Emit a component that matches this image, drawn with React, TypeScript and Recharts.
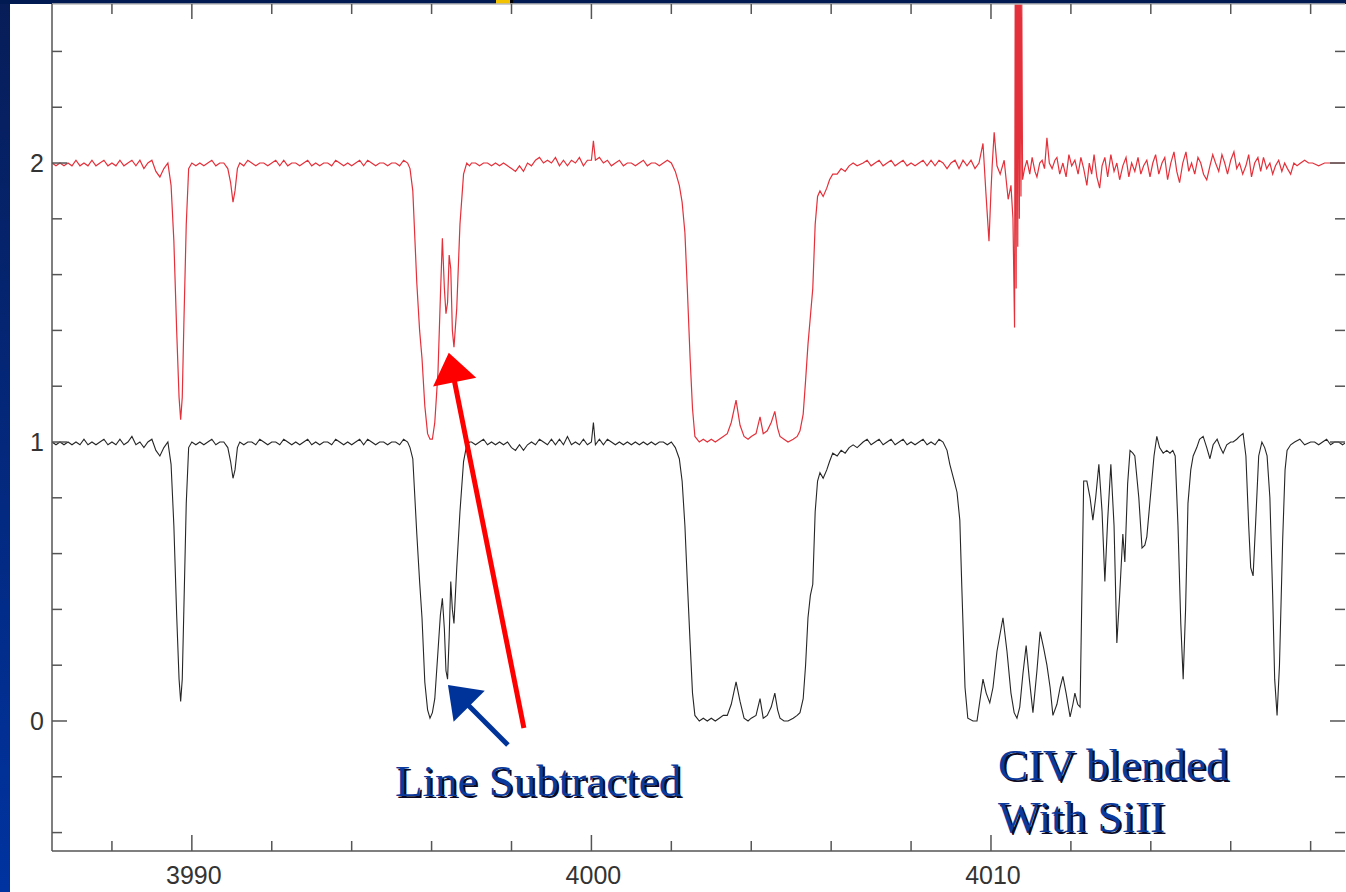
import React from "react";
import { LineChart, Line, XAxis, YAxis, ReferenceLine } from "recharts";

// wavelength grid shared by both spectra up to 4008.8 A
const waveMain = [
  3986.5, 3986.6, 3986.7, 3986.8, 3986.9, 3987.0, 3987.1, 3987.2, 3987.3, 3987.4,
  3987.5, 3987.6, 3987.7, 3987.8, 3987.9, 3988.0, 3988.1, 3988.2, 3988.3, 3988.4,
  3988.5, 3988.6, 3988.7, 3988.8, 3988.9, 3989.0, 3989.1, 3989.2, 3989.3, 3989.4,
  3989.48, 3989.55, 3989.62, 3989.68, 3989.72, 3989.76, 3989.8, 3989.86, 3989.92, 3990.0,
  3990.1, 3990.2, 3990.3, 3990.4, 3990.5, 3990.6, 3990.7, 3990.8, 3990.9, 3990.97,
  3991.03, 3991.08, 3991.14, 3991.2, 3991.3, 3991.4, 3991.5, 3991.6, 3991.7, 3991.8,
  3991.9, 3992.0, 3992.1, 3992.2, 3992.3, 3992.4, 3992.5, 3992.6, 3992.7, 3992.8,
  3992.9, 3993.0, 3993.1, 3993.2, 3993.3, 3993.4, 3993.5, 3993.6, 3993.7, 3993.8,
  3993.9, 3994.0, 3994.1, 3994.2, 3994.3, 3994.4, 3994.5, 3994.6, 3994.7, 3994.8,
  3994.9, 3995.0, 3995.1, 3995.2, 3995.3, 3995.4, 3995.46, 3995.53, 3995.63, 3995.7,
  3995.76, 3995.83, 3995.9, 3995.96, 3996.02, 3996.08, 3996.16, 3996.22, 3996.27, 3996.32,
  3996.36, 3996.4, 3996.44, 3996.48, 3996.52, 3996.56, 3996.63, 3996.71, 3996.8, 3996.88,
  3996.95, 3997.0, 3997.1, 3997.2, 3997.3, 3997.4, 3997.5, 3997.6, 3997.7, 3997.8,
  3997.9, 3998.0, 3998.1, 3998.2, 3998.3, 3998.4, 3998.5, 3998.6, 3998.7, 3998.8,
  3998.9, 3999.0, 3999.1, 3999.2, 3999.3, 3999.4, 3999.5, 3999.6, 3999.7, 3999.8,
  3999.9, 4000.0, 4000.05, 4000.1, 4000.2, 4000.3, 4000.4, 4000.5, 4000.6, 4000.7,
  4000.8, 4000.9, 4001.0, 4001.1, 4001.2, 4001.3, 4001.4, 4001.5, 4001.6, 4001.7,
  4001.8, 4001.9, 4002.0, 4002.1, 4002.2, 4002.27, 4002.34, 4002.4, 4002.47, 4002.53,
  4002.59, 4002.7, 4002.8, 4002.9, 4003.0, 4003.1, 4003.2, 4003.3, 4003.4, 4003.5,
  4003.62, 4003.72, 4003.82, 4003.92, 4004.0, 4004.12, 4004.22, 4004.3, 4004.4, 4004.5,
  4004.59, 4004.66, 4004.72, 4004.82, 4004.92, 4005.05, 4005.15, 4005.22, 4005.3, 4005.36,
  4005.42, 4005.48, 4005.54, 4005.6, 4005.66, 4005.72, 4005.8, 4005.89, 4005.96, 4006.04,
  4006.15, 4006.25, 4006.35, 4006.45, 4006.55, 4006.65, 4006.8, 4006.9, 4007.0, 4007.1,
  4007.2, 4007.3, 4007.4, 4007.5, 4007.6, 4007.7, 4007.8, 4007.9, 4008.0, 4008.1,
  4008.2, 4008.3, 4008.4, 4008.5, 4008.6, 4008.7, 4008.8,
];

// normalised spectrum (black)
const normMain = [
  1.0, 0.99, 1.0, 0.99, 1.0, 0.99, 1.0, 0.99, 1.01, 0.99,
  1.0, 0.99, 1.0, 1.01, 0.99, 1.0, 0.99, 1.01, 0.99, 1.0,
  1.02, 0.99, 1.0, 0.98, 1.0, 1.01, 0.97, 0.95, 0.98, 1.0,
  0.92, 0.7, 0.38, 0.15, 0.07, 0.15, 0.4, 0.78, 0.98, 1.0,
  0.99, 1.0, 0.99, 1.0, 1.01, 0.99, 1.0, 1.0, 0.98, 0.93,
  0.87, 0.9, 0.98, 1.0, 0.99, 1.0, 1.0, 0.99, 1.01, 1.0,
  0.99, 1.0, 1.0, 0.99, 1.01, 1.0, 0.99, 1.0, 0.99, 1.0,
  1.01, 0.99, 1.0, 0.99, 1.0, 1.0, 0.99, 1.01, 1.0, 0.99,
  1.0, 0.99, 1.0, 1.01, 0.99, 1.01, 1.0, 0.99, 1.0, 1.0,
  0.99, 1.0, 1.0, 0.99, 1.01, 1.0, 0.98, 0.94, 0.67, 0.5,
  0.37, 0.14, 0.04, 0.01, 0.03, 0.08, 0.25, 0.38, 0.44, 0.33,
  0.18, 0.15, 0.3, 0.5, 0.4, 0.35, 0.55, 0.75, 0.93, 0.99,
  1.0, 1.0, 0.99, 1.0, 1.01, 0.99, 1.0, 0.99, 1.0, 0.99,
  1.0, 0.98, 0.97, 0.99, 0.97, 0.99, 1.0, 0.99, 1.01, 1.0,
  0.99, 1.01, 0.99, 1.01, 0.99, 1.02, 0.99, 1.0, 0.99, 1.01,
  0.99, 1.0, 1.07, 0.99, 1.01, 0.99, 1.01, 1.0, 0.99, 1.0,
  0.99, 1.0, 0.99, 1.0, 0.99, 1.0, 0.99, 1.0, 0.99, 1.0,
  1.0, 0.99, 1.0, 0.98, 0.94, 0.86, 0.7, 0.5, 0.28, 0.1,
  0.02, 0.0, 0.01, 0.0, 0.01, 0.0, 0.01, 0.02, 0.02, 0.06,
  0.14, 0.07, 0.01, 0.0, 0.01, 0.02, 0.08, 0.01, 0.02, 0.05,
  0.1, 0.04, 0.01, 0.0, 0.0, 0.01, 0.02, 0.03, 0.08, 0.2,
  0.37, 0.45, 0.49, 0.75, 0.86, 0.89, 0.87, 0.9, 0.93, 0.96,
  0.95, 0.97, 0.96, 0.98, 0.99, 0.98, 1.0, 1.01, 0.99, 1.0,
  1.01, 0.99, 1.0, 1.01, 0.99, 1.0, 1.01, 0.99, 1.0, 0.99,
  1.0, 1.01, 0.99, 1.0, 0.99, 1.01, 1.0,
];

// line-subtracted spectrum, offset by +1 (red)
const subMain = [
  2.0, 1.99, 2.0, 1.99, 2.0, 1.99, 2.01, 1.99, 2.0, 1.99,
  2.01, 1.99, 2.0, 2.01, 1.99, 2.0, 1.99, 2.01, 1.99, 2.0,
  2.01, 1.99, 2.01, 1.98, 2.0, 2.01, 1.97, 1.95, 1.98, 2.0,
  1.92, 1.72, 1.4, 1.16, 1.08, 1.16, 1.42, 1.78, 1.98, 2.0,
  1.99, 2.0, 1.99, 2.0, 2.01, 1.99, 2.0, 2.0, 1.98, 1.93,
  1.86, 1.9, 1.98, 2.0, 1.99, 2.01, 2.0, 1.99, 2.0, 2.0,
  1.99, 2.0, 2.01, 1.99, 2.01, 1.99, 2.0, 2.0, 1.99, 2.0,
  2.01, 1.99, 2.0, 1.99, 2.0, 2.0, 1.99, 2.01, 2.0, 1.99,
  2.0, 1.99, 2.0, 2.01, 1.99, 2.01, 2.0, 1.99, 2.0, 2.0,
  1.99, 2.0, 2.0, 1.99, 2.01, 2.0, 1.98, 1.9, 1.57, 1.4,
  1.3, 1.13, 1.03, 1.01, 1.01, 1.07, 1.25, 1.52, 1.73, 1.55,
  1.46, 1.5, 1.67, 1.62, 1.4, 1.34, 1.48, 1.78, 1.96, 2.0,
  1.99, 2.0, 2.0, 1.99, 2.0, 2.0, 1.99, 2.0, 1.99, 2.0,
  1.99, 1.98, 1.97, 1.99, 1.97, 2.0, 1.99, 2.01, 2.02, 2.0,
  2.01, 2.0, 2.02, 1.99, 2.01, 1.99, 2.01, 2.0, 2.02, 1.99,
  2.01, 2.01, 2.08, 2.01, 2.02, 2.0, 2.01, 1.99, 2.0, 2.01,
  1.99, 2.0, 2.0, 1.99, 2.0, 2.01, 1.99, 2.0, 2.0, 1.99,
  2.0, 2.01, 2.0, 1.97, 1.92, 1.86, 1.75, 1.55, 1.3, 1.12,
  1.02, 1.0, 1.01, 1.0, 1.01, 1.0, 1.01, 1.02, 1.03, 1.07,
  1.15, 1.06, 1.02, 1.01, 1.02, 1.03, 1.09, 1.03, 1.04, 1.07,
  1.11, 1.05, 1.02, 1.01, 1.0, 1.01, 1.02, 1.04, 1.1, 1.22,
  1.35, 1.45, 1.55, 1.78, 1.88, 1.9, 1.88, 1.91, 1.94, 1.96,
  1.96, 1.98, 1.97, 1.99, 2.0, 1.99, 2.0, 2.01, 1.99, 2.0,
  2.01, 1.99, 2.0, 2.01, 1.99, 2.0, 2.01, 1.99, 2.0, 1.99,
  2.0, 2.01, 1.99, 2.01, 1.99, 2.01, 2.0,
];

// CIV / SiII blend region of the normalised spectrum
const waveNormTail = [
  4008.9, 4008.97, 4009.08, 4009.15, 4009.22, 4009.27, 4009.35, 4009.42, 4009.55, 4009.65,
  4009.73, 4009.8, 4009.88, 4009.97, 4010.05, 4010.15, 4010.3, 4010.4, 4010.5, 4010.58,
  4010.65, 4010.72, 4010.8, 4010.88, 4010.96, 4011.05, 4011.15, 4011.23, 4011.32, 4011.4,
  4011.48, 4011.55, 4011.65, 4011.73, 4011.8, 4011.88, 4011.98, 4012.05, 4012.1, 4012.17,
  4012.23, 4012.28, 4012.32, 4012.4, 4012.48, 4012.55, 4012.62, 4012.7, 4012.78, 4012.85,
  4012.92, 4013.0, 4013.08, 4013.15, 4013.22, 4013.3, 4013.35, 4013.42, 4013.48, 4013.55,
  4013.6, 4013.7, 4013.78, 4013.85, 4013.9, 4014.0, 4014.08, 4014.15, 4014.22, 4014.31,
  4014.4, 4014.48, 4014.55, 4014.61, 4014.68, 4014.75, 4014.81, 4014.87, 4014.93, 4015.0,
  4015.06, 4015.15, 4015.22, 4015.31, 4015.4, 4015.48, 4015.56, 4015.66, 4015.74, 4015.81,
  4015.9, 4016.0, 4016.06, 4016.15, 4016.22, 4016.31, 4016.38, 4016.45, 4016.5, 4016.56,
  4016.62, 4016.7, 4016.78, 4016.85, 4016.91, 4016.98, 4017.05, 4017.1, 4017.16, 4017.22,
  4017.3, 4017.36, 4017.41, 4017.5, 4017.6, 4017.73, 4017.85, 4018.0, 4018.1, 4018.2,
  4018.3, 4018.4, 4018.5, 4018.6, 4018.7, 4018.8, 4018.9,
];
const normTail = [
  0.97, 0.92, 0.86, 0.82, 0.72, 0.48, 0.12, 0.01, 0.0, 0.0,
  0.08, 0.15, 0.1, 0.065, 0.12, 0.25, 0.37, 0.25, 0.1, 0.03,
  0.01, 0.05, 0.17, 0.27, 0.15, 0.03, 0.18, 0.32, 0.26, 0.2,
  0.12, 0.02, 0.06, 0.12, 0.16, 0.1, 0.015, 0.06, 0.1, 0.06,
  0.05, 0.5, 0.86, 0.86, 0.8, 0.72, 0.8, 0.92, 0.75, 0.5,
  0.72, 0.92, 0.7, 0.28, 0.45, 0.67, 0.57, 0.85, 0.97, 0.96,
  0.95, 0.8, 0.62, 0.63, 0.66, 0.82, 0.95, 1.02, 0.98, 0.96,
  0.97, 0.96, 0.97, 0.95, 0.7, 0.35, 0.15, 0.4, 0.78, 0.9,
  0.95, 0.98, 1.01, 1.02, 0.98, 0.94, 0.99, 1.01, 0.98, 0.96,
  0.99, 1.0, 1.0, 1.01, 1.02, 1.03, 0.95, 0.7, 0.55, 0.52,
  0.7, 0.95, 1.0, 0.98, 0.95, 0.8, 0.45, 0.15, 0.02, 0.2,
  0.65, 0.9, 0.97, 0.99, 1.0, 1.01, 0.99, 1.0, 1.0, 0.99,
  1.0, 1.01, 0.99, 1.0, 1.0, 0.99, 1.0,
];

// same region after line subtraction, with the residual spike near 4010.7
const waveSubTail = [
  4008.9, 4009.0, 4009.1, 4009.2, 4009.3, 4009.4, 4009.5, 4009.6, 4009.7, 4009.8,
  4009.87, 4009.95, 4010.0, 4010.03, 4010.08, 4010.15, 4010.23, 4010.33, 4010.43, 4010.5,
  4010.55, 4010.59, 4010.61, 4010.63, 4010.65, 4010.67, 4010.69, 4010.71, 4010.73, 4010.75,
  4010.77, 4010.79, 4010.84, 4010.9,
  4010.97, 4011.03, 4011.1, 4011.15, 4011.22, 4011.28, 4011.34, 4011.4, 4011.46, 4011.53,
  4011.6, 4011.65, 4011.72, 4011.8, 4011.88, 4011.95, 4012.02, 4012.1, 4012.18, 4012.25,
  4012.32, 4012.4, 4012.46, 4012.52, 4012.58, 4012.65, 4012.72, 4012.78, 4012.85, 4012.92,
  4013.0, 4013.08, 4013.15, 4013.22, 4013.3, 4013.38, 4013.45, 4013.52, 4013.6, 4013.68,
  4013.75, 4013.82, 4013.9, 4013.98, 4014.05, 4014.12, 4014.2, 4014.28, 4014.35, 4014.42,
  4014.5, 4014.58, 4014.65, 4014.72, 4014.8, 4014.88, 4014.95, 4015.02, 4015.1, 4015.18,
  4015.25, 4015.32, 4015.4, 4015.48, 4015.55, 4015.62, 4015.7, 4015.78, 4015.85, 4015.92,
  4016.0, 4016.08, 4016.15, 4016.22, 4016.3, 4016.38, 4016.45, 4016.52, 4016.6, 4016.68,
  4016.75, 4016.82, 4016.9, 4016.98, 4017.05, 4017.12, 4017.2, 4017.28, 4017.35, 4017.42,
  4017.5, 4017.58, 4017.66, 4017.75, 4017.85, 4017.95, 4018.05, 4018.2, 4018.35, 4018.5,
  4018.65, 4018.8, 4018.9,
];
const subTail = [
  1.98, 2.0, 2.01, 1.98, 2.01, 1.99, 2.01, 1.98, 2.0, 2.07,
  1.9, 1.72, 1.9, 1.99, 2.11, 1.99, 1.96, 2.01, 1.87, 1.92,
  1.8, 1.41, 2.9, 1.55, 2.9, 1.7, 2.9, 1.8, 2.9, 1.88,
  2.6, 1.94, 1.98, 2.01,
  1.96, 2.02, 1.97, 1.95, 2.0, 2.01, 1.98, 2.09, 2.0, 1.98,
  2.01, 2.02, 1.96, 2.0, 1.95, 2.03, 1.99, 2.01, 1.96, 2.02,
  1.98, 1.92, 2.0, 1.96, 2.03, 1.95, 1.91, 1.99, 2.02, 1.95,
  2.03, 1.97, 2.0, 1.94, 1.99, 2.02, 1.95, 2.0, 1.97, 2.02,
  1.96, 1.99, 2.01, 1.95, 2.0, 2.03, 1.96, 2.0, 2.02, 1.94,
  2.0, 2.04, 1.97, 1.93, 2.0, 2.04, 1.97, 2.0, 1.96, 2.02,
  2.0, 1.96, 1.94, 1.99, 2.03, 2.0, 1.97, 2.03, 2.0, 1.96,
  2.01, 2.04, 1.98, 2.0, 1.96, 1.99, 2.03, 1.95, 2.0, 2.02,
  1.97, 2.02, 1.98, 2.0, 1.96, 1.99, 2.01, 1.97, 2.0, 1.98,
  1.96, 2.0, 1.99, 2.0, 2.01, 2.0, 2.0, 1.99, 2.0, 2.0,
  2.0, 2.0, 2.0,
];

const xTicks = [3988, 3990, 3992, 3994, 3996, 3998, 4000, 4002, 4004, 4006, 4008, 4010, 4012, 4014, 4016, 4018];
const xLabels = [3990, 4000, 4010];
const yTicks = [-0.4, -0.2, 0, 0.2, 0.4, 0.6, 0.8, 1, 1.2, 1.4, 1.6, 1.8, 2, 2.2, 2.4];

const normWave = [...waveMain, ...waveNormTail];
const normFlux = [...normMain, ...normTail];
const subWave = [...waveMain, ...waveSubTail];
const subFlux = [...subMain, ...subTail];
const normRows = normWave.map((w, i) => ({ w, f: normFlux[i] }));
const subRows = subWave.map((w, i) => ({ w, f: subFlux[i] }));

const AXIS = "#555";
const FONT = "'Liberation Sans', Arial, Helvetica, sans-serif";
const isMajorY = (v: number) => Math.abs(v - Math.round(v)) < 1e-6;

const LeftTick = ({ x, y, payload }: any) => {
  const major = isMajorY(payload.value);
  return (
    <g>
      <line x1={x} x2={x + (major ? 15 : 10)} y1={y} y2={y} stroke={AXIS} strokeWidth={1.5} />
      {major && (
        <text x={x - 8} y={y} dy="0.36em" textAnchor="end" fontSize={25} fill="#333" fontFamily={FONT}>
          {payload.value}
        </text>
      )}
    </g>
  );
};
const RightTick = ({ x, y, payload }: any) => {
  const major = isMajorY(payload.value);
  return <line x1={x} x2={x - (major ? 15 : 10)} y1={y} y2={y} stroke={AXIS} strokeWidth={1.5} />;
};
const BottomTick = ({ x, y, payload }: any) => {
  const major = xLabels.includes(payload.value);
  return (
    <g>
      <line x1={x} x2={x} y1={y} y2={y - (major ? 16 : 10)} stroke={AXIS} strokeWidth={1.5} />
      {major && (
        <text x={x + 2} y={y + 33} textAnchor="middle" fontSize={25} fill="#333" fontFamily={FONT}>
          {payload.value}
        </text>
      )}
    </g>
  );
};
const TopTick = ({ x, y, payload }: any) => {
  const major = xLabels.includes(payload.value);
  return <line x1={x} x2={x} y1={y} y2={y + (major ? 15 : 10)} stroke={AXIS} strokeWidth={1.5} />;
};

const arrow = (color: string) => (p: any) => {
  const { x1, y1, x2, y2 } = p;
  const dx = x2 - x1;
  const dy = y2 - y1;
  const len = Math.hypot(dx, dy) || 1;
  const ux = dx / len;
  const uy = dy / len;
  const head = 30;
  const half = 22;
  const bx = x2 - ux * head;
  const by = y2 - uy * head;
  const pts = `${x2},${y2} ${bx - uy * half},${by + ux * half} ${bx + uy * half},${by - ux * half}`;
  return (
    <g>
      <line x1={x1} y1={y1} x2={bx + ux * 3} y2={by + uy * 3} stroke={color} strokeWidth={5} />
      <polygon points={pts} fill={color} />
    </g>
  );
};

const XDOM: [number, number] = [3986.5, 4018.86];
const YDOM: [number, number] = [-0.466, 2.57];

const Label = ({ x, y, children }: { x: number; y: number; children: string }) => (
  <g fontFamily="'Liberation Serif', 'Times New Roman', serif" fontSize={45}>
    <text x={x + 2} y={y + 2} fill="#0a0a26">{children}</text>
    <text x={x} y={y} fill="#0b3a9c">{children}</text>
  </g>
);

export default function App() {
  return (
    <div
      style={{
        position: "absolute",
        left: 0,
        top: 0,
        width: 1346,
        height: 892,
        overflow: "hidden",
        background: "linear-gradient(to bottom, #071d58, #0033a0)",
      }}
    >
      <div style={{ position: "absolute", left: 0, top: 0, width: 1346, height: 4, background: "#021a52" }} />
      <div style={{ position: "absolute", left: 496, top: 0, width: 14, height: 4, background: "#f2c200" }} />
      <div style={{ position: "absolute", left: 510, top: 0, width: 3, height: 4, background: "#000" }} />
      <div style={{ position: "absolute", left: 10, top: 4, width: 1336, height: 888, background: "#fff" }} />
      <div style={{ position: "absolute", left: 0, top: 0 }}>
        <LineChart width={1346} height={892} margin={{ top: 3, right: 0, bottom: 0, left: 0 }}>
          <XAxis
            xAxisId="b"
            type="number"
            dataKey="w"
            domain={XDOM}
            allowDataOverflow
            ticks={xTicks}
            interval={0}
            height={41}
            tickSize={0}
            tickMargin={0}
            tickLine={false}
            axisLine={{ stroke: AXIS, strokeWidth: 1.5 }}
            tick={BottomTick}
          />
          <XAxis
            xAxisId="t"
            orientation="top"
            type="number"
            dataKey="w"
            domain={XDOM}
            allowDataOverflow
            ticks={xTicks}
            interval={0}
            height={1}
            tickSize={0}
            tickMargin={0}
            tickLine={false}
            axisLine={{ stroke: "#bbb", strokeWidth: 1.5 }}
            tick={TopTick}
          />
          <YAxis
            yAxisId="l"
            type="number"
            domain={YDOM}
            allowDataOverflow
            ticks={yTicks}
            interval={0}
            width={52}
            tickSize={0}
            tickMargin={0}
            tickLine={false}
            axisLine={{ stroke: AXIS, strokeWidth: 1.5 }}
            tick={LeftTick}
          />
          <YAxis
            yAxisId="r"
            orientation="right"
            type="number"
            domain={YDOM}
            allowDataOverflow
            ticks={yTicks}
            interval={0}
            width={1}
            tickSize={0}
            tickMargin={0}
            tickLine={false}
            axisLine={false}
            tick={RightTick}
          />
          <Line
            xAxisId="b"
            yAxisId="l"
            data={subRows}
            dataKey="f"
            type="linear"
            stroke="#e4303a"
            strokeWidth={1.2}
            dot={false}
            isAnimationActive={false}
          />
          <Line
            xAxisId="b"
            yAxisId="l"
            data={normRows}
            dataKey="f"
            type="linear"
            stroke="#262626"
            strokeWidth={1.1}
            dot={false}
            isAnimationActive={false}
          />
          <ReferenceLine
            xAxisId="b"
            yAxisId="l"
            segment={[{ x: 3998.31, y: -0.025 }, { x: 3996.43, y: 1.32 }]}
            shape={arrow("#ff0000")}
          />
          <ReferenceLine
            xAxisId="b"
            yAxisId="l"
            segment={[{ x: 3997.91, y: -0.086 }, { x: 3996.41, y: 0.129 }]}
            shape={arrow("#003399")}
          />
        </LineChart>
      </div>
      <svg width={1346} height={892} style={{ position: "absolute", left: 0, top: 0, pointerEvents: "none" }}>
        <Label x={395} y={796}>Line Subtracted</Label>
        <Label x={998} y={780}>CIV blended</Label>
        <Label x={998} y={832}>With SiII</Label>
      </svg>
    </div>
  );
}
